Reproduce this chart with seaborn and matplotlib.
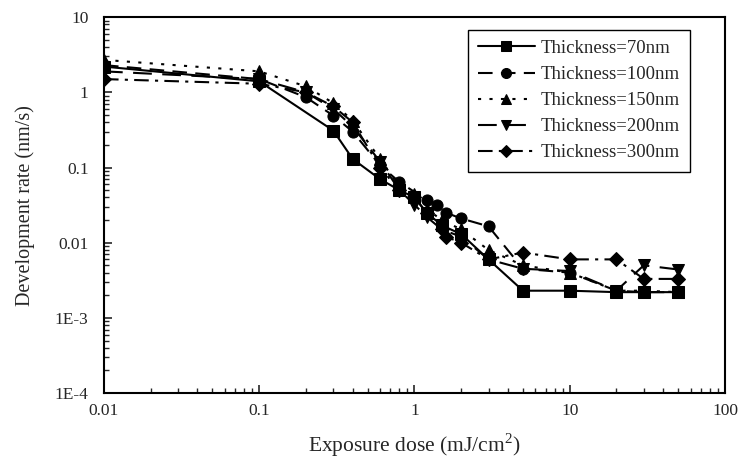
import matplotlib
matplotlib.use("Agg")
import matplotlib.pyplot as plt
import seaborn as sns
import numpy as np
import pandas as pd
from matplotlib.ticker import LogLocator, NullFormatter

sns.set_style("ticks")
plt.rcParams['font.family'] = ['Liberation Serif', 'DejaVu Serif']
plt.rcParams['mathtext.fontset'] = 'custom'
plt.rcParams['mathtext.rm'] = 'Liberation Serif'

labels = ["Thickness=70nm", "Thickness=100nm", "Thickness=150nm",
          "Thickness=200nm", "Thickness=300nm"]

dose_70 = [0.01, 0.1, 0.3, 0.4, 0.6, 0.8, 1.0, 1.2, 1.5, 2, 3, 5, 10, 20, 30, 50]
rate_70 = [2.2, 1.4, 0.31, 0.13, 0.07, 0.05, 0.04, 0.025, 0.017, 0.013, 0.006,
           0.0023, 0.0023, 0.0022, 0.0022, 0.0022]

dose_100 = [0.01, 0.1, 0.2, 0.3, 0.4, 0.6, 0.8, 1.2, 1.4, 1.6, 2, 3, 5, 10, 20, 30, 50]
rate_100 = [2.3, 1.5, 0.86, 0.49, 0.30, 0.107, 0.064, 0.037, 0.032, 0.025, 0.021,
            0.0165, 0.0045, 0.004, 0.0023, 0.0022, 0.0022]

dose_150 = [0.01, 0.1, 0.2, 0.3, 0.4, 0.6, 0.8, 1.0, 1.2, 1.5, 2, 3, 5, 10, 20, 30, 50]
rate_150 = [2.7, 1.9, 1.2, 0.72, 0.42, 0.13, 0.055, 0.045, 0.028, 0.02, 0.015,
            0.008, 0.005, 0.004, 0.0023, 0.0023, 0.0022]

dose_200 = [0.01, 0.1, 0.2, 0.3, 0.4, 0.6, 0.8, 1.0, 1.2, 1.5, 2, 3, 5, 10, 20, 30, 50]
rate_200 = [1.9, 1.5, 1.0, 0.6, 0.35, 0.12, 0.05, 0.032, 0.022, 0.015, 0.012,
            0.006, 0.0045, 0.0042, 0.0023, 0.005, 0.0044]

dose_300 = [0.01, 0.1, 0.2, 0.3, 0.4, 0.6, 0.8, 1.0, 1.2, 1.5, 1.6, 2, 3, 5, 10, 20, 30, 50]
rate_300 = [1.5, 1.3, 1.0, 0.65, 0.4, 0.1, 0.05, 0.04, 0.025, 0.015, 0.012, 0.01,
            0.006, 0.0074, 0.006, 0.006, 0.0033, 0.0033]

series = [
    (dose_70, rate_70, 's', '-'),
    (dose_100, rate_100, 'o', (0, (7, 4))),
    (dose_150, rate_150, '^', (0, (1.5, 4))),
    (dose_200, rate_200, 'v', (0, (9, 5))),
    (dose_300, rate_300, 'D', (0, (7, 3, 1.5, 3))),
]

fig = plt.figure(figsize=(7.39, 4.63), dpi=100)
ax = fig.add_axes([0.1407, 0.151, 0.8403, 0.812])

for (xs, ys, mk, ls), lab in zip(series, labels):
    df = pd.DataFrame({"dose": xs, "rate": ys})
    sns.lineplot(data=df, x="dose", y="rate", ax=ax, color="black",
                 marker=mk, markersize=8 if mk != 'D' else 7, markeredgecolor="black",
                 linestyle=ls, linewidth=1.5, label=lab, sort=False)

ax.set_xscale("log")
ax.set_yscale("log")
ax.set_xlim(0.01, 100)
ax.set_ylim(1e-4, 10)

xt = [0.01, 0.1, 1, 10, 100]
ax.set_xticks(xt)
ax.set_xticklabels(["0.01", "0.1", "1", "10", "100"])
yt = [1e-4, 1e-3, 0.01, 0.1, 1, 10]
ax.set_yticks(yt)
ax.set_yticklabels(["1E-4", "1E-3", "0.01", "0.1", "1", "10"])
ax.xaxis.set_minor_locator(LogLocator(base=10, subs=np.arange(2, 10), numticks=20))
ax.yaxis.set_minor_locator(LogLocator(base=10, subs=np.arange(2, 10), numticks=20))
ax.xaxis.set_minor_formatter(NullFormatter())
ax.yaxis.set_minor_formatter(NullFormatter())
ax.tick_params(which="major", direction="in", length=6, width=1.2, labelsize=12.5,
               top=False, right=False)
ax.tick_params(axis="y", which="major", pad=11)
ax.tick_params(axis="x", which="major", pad=7)
ax.tick_params(which="minor", direction="in", length=3.5, width=1.0,
               top=False, right=False)
for sp in ax.spines.values():
    sp.set_linewidth(1.5)
    sp.set_color("black")

ax.set_xlabel("Exposure dose (mJ/cm$^\\mathregular{2}$)", fontsize=15.5, labelpad=9)
ax.set_ylabel("Development rate (nm/s)", fontsize=14.5, labelpad=14)

leg = ax.legend(loc="upper right", bbox_to_anchor=(0.943, 0.967), fontsize=13.5,
                frameon=True, fancybox=False, edgecolor="black", framealpha=1,
                handlelength=3, handletextpad=0.3, labelspacing=0.48,
                borderpad=0.55, borderaxespad=0, markerscale=0.9)
leg.get_frame().set_linewidth(1.0)

fig.savefig("out.png", dpi=100)
